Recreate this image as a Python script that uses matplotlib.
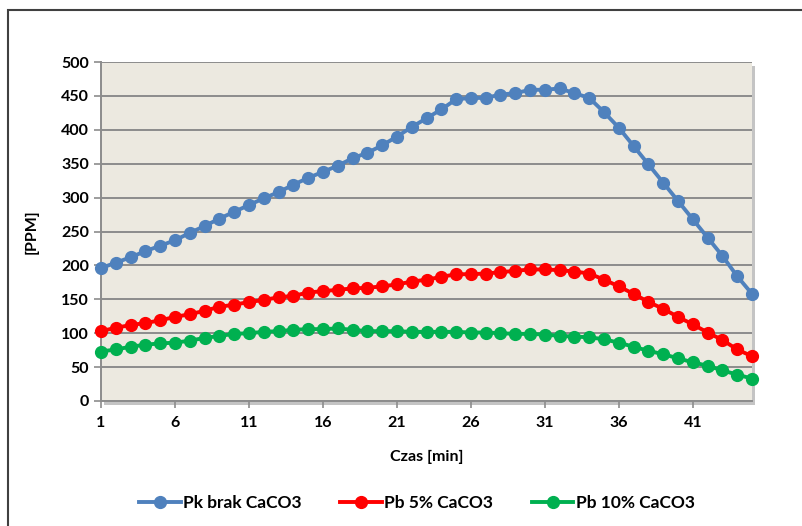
import numpy as np
import matplotlib
matplotlib.use("Agg")
import matplotlib.pyplot as plt
from matplotlib.patches import Rectangle

# data
czas = np.arange(1, 46)
pk_brak = [196, 204, 212, 221, 229, 237, 248, 258, 269, 279, 289, 299, 308, 319, 329, 338,
           347, 358, 366, 377, 390, 404, 417, 430, 445, 447, 447, 452, 454, 459,
           459, 461, 454, 447, 426, 403, 376, 349, 322, 295, 268, 241, 214, 184, 158]
pb_5 = [103, 108, 112, 115, 119, 124, 128, 133, 139, 142, 146, 149, 153, 155, 160, 162,
        164, 166, 167, 169, 172, 176, 179, 183, 187, 187, 188, 190, 192, 194,
        194, 193, 191, 188, 179, 169, 158, 146, 136, 124, 113, 101, 90, 76, 66]
pb_10 = [73, 76, 80, 83, 85, 86, 89, 93, 96, 99, 100, 102, 103, 105, 106, 106,
         107, 105, 103, 103, 103, 102, 102, 102, 102, 101, 101, 100, 99, 99,
         98, 96, 95, 94, 91, 86, 80, 74, 69, 63, 57, 52, 45, 39, 33]
labels = ["Pk brak CaCO3", "Pb 5% CaCO3", "Pb 10% CaCO3"]
colors = ["#4F81BD", "#FF0000", "#00B050"]
xticks = [1, 6, 11, 16, 21, 26, 31, 36, 41]

plt.rcParams['font.family'] = ['Lato', 'DejaVu Sans']
plt.rcParams['font.weight'] = 'bold'

fig = plt.figure(figsize=(8.02, 5.26), dpi=100)
ax = fig.add_axes([101/802, 125/526, 651/802, 339/526])

# outer frame of the chart object
fig.add_artist(Rectangle((8/802, -0.05), 1.2, 1 - 10/526 + 0.05, transform=fig.transFigure,
                         fill=False, edgecolor="#404040", lw=1.5))
# drop shadow behind plot area
fig.add_artist(Rectangle((104/802, 121/526), 651/802, 339/526, transform=fig.transFigure,
                         facecolor="#c4c4c4", edgecolor="none", zorder=0))

ax.set_facecolor("#ECE9E0")
for vals, lab, c in zip([pk_brak, pb_5, pb_10], labels, colors):
    ax.plot(czas, vals, color=c, lw=2.8, marker='o', markersize=8.5, label=lab,
            clip_on=False, zorder=3)

ax.set_xlim(1, 45)
ax.set_ylim(0, 500)
ax.set_yticks(range(0, 501, 50))
ax.set_xticks(xticks)
ax.grid(axis='y', color="#8C8C8C", lw=1.4)
ax.set_axisbelow(True)
for s in ['top', 'right']:
    ax.spines[s].set_visible(False)
for s in ['left', 'bottom']:
    ax.spines[s].set_color("#8C8C8C")
    ax.spines[s].set_linewidth(1.4)
ax.tick_params(axis='both', colors="#8C8C8C", labelcolor="black", labelsize=11.5,
               length=5, width=1.2)
ax.tick_params(axis='x', pad=6)

ax.set_xlabel("Czas [min]", fontsize=11.5, fontweight='bold', labelpad=14)
ax.set_ylabel("[PPM]", fontsize=11.5, fontweight='bold', labelpad=16)

fig.legend(loc='center', bbox_to_anchor=(0.52, 1 - 503/526), ncol=3, frameon=False,
           handlelength=2.4, columnspacing=2.2, handletextpad=0.15,
           prop={'weight': 'bold', 'size': 12.5})

fig.savefig("out.png", dpi=100, facecolor="white")
